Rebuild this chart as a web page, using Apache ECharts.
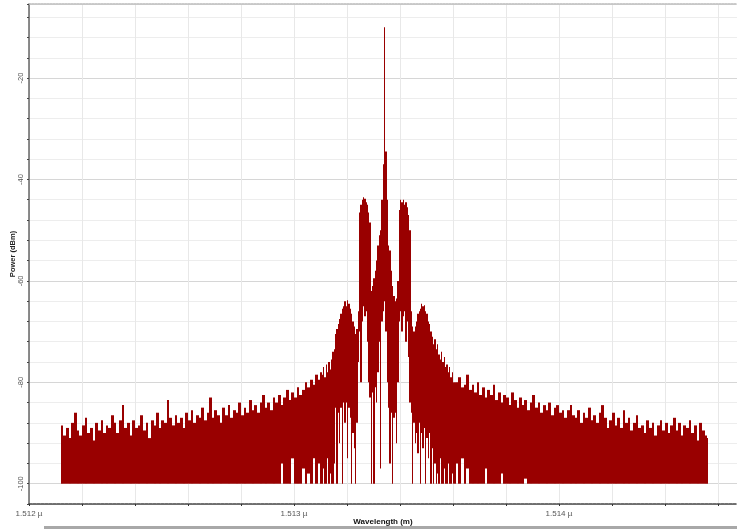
<!DOCTYPE html>
<html>
<head>
<meta charset="utf-8">
<script src="https://cdn.jsdelivr.net/npm/echarts@6/dist/echarts.min.js"></script>
<style>
html,body{margin:0;padding:0;background:#fff;}
#chart{width:737px;height:529px;}
</style>
</head>
<body>
<div id="chart"></div>
<script>
// 采样波长 (nm)：两侧噪底 0.01nm 一个点，中间信号区 0.005nm 一个点
const wavelengthNm = [
  1512.12,1512.13,1512.14,1512.15,1512.16,1512.17,1512.18,1512.19,1512.20,1512.21,
  1512.22,1512.23,1512.24,1512.25,1512.26,1512.27,1512.28,1512.29,1512.30,1512.31,
  1512.32,1512.33,1512.34,1512.35,1512.36,1512.37,1512.38,1512.39,1512.40,1512.41,
  1512.42,1512.43,1512.44,1512.45,1512.46,1512.47,1512.48,1512.49,1512.50,1512.51,
  1512.52,1512.53,1512.54,1512.55,1512.56,1512.57,1512.58,1512.59,1512.60,1512.61,
  1512.62,1512.63,1512.64,1512.65,1512.66,1512.67,1512.68,1512.69,1512.70,1512.71,
  1512.72,1512.73,1512.74,1512.75,1512.76,1512.77,1512.78,1512.79,1512.80,1512.81,
  1512.82,1512.83,1512.84,1512.85,1512.86,1512.87,1512.88,1512.89,1512.90,1512.91,
  1512.92,1512.93,1512.94,1512.95,1512.96,1512.97,1512.98,1512.99,1513.00,1513.01,
  1513.02,1513.03,1513.04,1513.05,1513.06,1513.07,1513.08,1513.09,1513.10,
  1513.105,1513.110,1513.115,1513.120,1513.125,1513.130,1513.135,1513.140,1513.145,1513.150,
  1513.155,1513.160,1513.165,1513.170,1513.175,1513.180,1513.185,1513.190,1513.195,1513.200,
  1513.205,1513.210,1513.215,1513.220,1513.225,1513.230,1513.235,1513.240,1513.245,1513.250,
  1513.255,1513.260,1513.265,1513.270,1513.275,1513.280,1513.285,1513.290,1513.295,1513.300,
  1513.305,1513.310,1513.315,1513.320,1513.325,1513.330,1513.335,1513.340,1513.345,1513.350,
  1513.355,1513.360,1513.365,1513.370,1513.375,1513.380,1513.385,1513.390,1513.395,1513.400,
  1513.405,1513.410,1513.415,1513.420,1513.425,1513.430,1513.435,1513.440,1513.445,1513.450,
  1513.455,1513.460,1513.465,1513.470,1513.475,1513.480,1513.485,1513.490,1513.495,1513.500,
  1513.505,1513.510,1513.515,1513.520,1513.525,1513.530,1513.535,1513.540,1513.545,1513.550,
  1513.555,1513.560,1513.565,1513.570,1513.575,1513.580,1513.585,1513.590,1513.595,1513.600,
  1513.61,1513.62,1513.63,1513.64,1513.65,1513.66,1513.67,1513.68,1513.69,1513.70,
  1513.71,1513.72,1513.73,1513.74,1513.75,1513.76,1513.77,1513.78,1513.79,1513.80,
  1513.81,1513.82,1513.83,1513.84,1513.85,1513.86,1513.87,1513.88,1513.89,1513.90,
  1513.91,1513.92,1513.93,1513.94,1513.95,1513.96,1513.97,1513.98,1513.99,1514.00,
  1514.01,1514.02,1514.03,1514.04,1514.05,1514.06,1514.07,1514.08,1514.09,1514.10,
  1514.11,1514.12,1514.13,1514.14,1514.15,1514.16,1514.17,1514.18,1514.19,1514.20,
  1514.21,1514.22,1514.23,1514.24,1514.25,1514.26,1514.27,1514.28,1514.29,1514.30,
  1514.31,1514.32,1514.33,1514.34,1514.35,1514.36,1514.37,1514.38,1514.39,1514.40,
  1514.41,1514.42,1514.43,1514.44,1514.45,1514.46,1514.47,1514.48,1514.49,1514.50,
  1514.51,1514.52,1514.53,1514.54,1514.55,1514.56
];

// 每个采样点的最高功率 (dBm)
const peakDbm = [
  -88.5,-90.5,-89.0,-91.0,-88.0,-86.0,-89.5,-90.5,-88.5,-87.0,
  -90.0,-89.0,-91.5,-88.0,-89.5,-87.5,-90.0,-88.5,-89.0,-86.5,
  -88.0,-90.0,-87.5,-84.5,-89.0,-88.0,-90.5,-87.5,-89.0,-88.5,
  -86.5,-89.5,-88.0,-91.0,-87.5,-88.5,-86.0,-89.0,-87.5,-88.0,
  -83.5,-87.0,-88.5,-86.5,-88.0,-87.0,-89.0,-86.0,-87.5,-85.5,
  -88.0,-86.5,-87.0,-85.0,-87.5,-86.0,-83.0,-87.0,-85.5,-86.5,
  -88.0,-85.0,-86.5,-84.5,-87.0,-85.5,-86.0,-84.0,-86.5,-85.0,
  -86.0,-83.5,-85.5,-84.5,-86.0,-84.0,-82.5,-85.0,-84.0,-85.5,
  -83.0,-84.0,-82.5,-84.5,-83.0,-81.5,-83.5,-82.0,-83.0,-81.0,
  -82.5,-81.5,-80.0,-81.0,-79.5,-80.5,-78.5,-79.5,-78.0,
  -78.5,-77.0,-79.0,-76.5,-78.0,-76.0,-77.5,-75.5,-74.0,-73.5,
  -70.5,-69.5,-68.5,-67.5,-66.5,-65.5,-65.0,-64.0,-65.0,-63.8,
  -64.5,-65.5,-66.5,-68.0,-69.0,-70.5,-69.5,-66.0,-46.5,-45.0,
  -44.0,-43.5,-43.8,-44.5,-45.0,-46.5,-48.5,-62.0,-61.0,-59.5,
  -58.0,-56.0,-53.0,-51.0,-50.0,-44.0,-37.0,-10.0,-34.5,-44.0,
  -53.0,-54.0,-58.0,-61.0,-63.0,-64.0,-63.5,-60.0,-46.0,-44.0,
  -44.5,-44.0,-45.0,-44.5,-45.5,-47.0,-50.0,-66.0,-69.0,-70.0,
  -69.0,-68.0,-66.5,-66.0,-65.5,-64.5,-65.0,-64.8,-66.0,-66.5,
  -68.0,-68.5,-70.0,-71.0,-72.5,-71.5,-73.5,-72.5,-74.5,-75.5,
  -74.0,-76.0,-75.0,-77.0,-76.5,-78.0,-77.0,-79.0,-78.0,-80.0,
  -80.0,-79.0,-81.0,-80.5,-78.5,-81.5,-80.5,-82.0,-80.0,-82.5,
  -81.0,-83.0,-81.5,-82.5,-80.5,-83.5,-82.0,-84.0,-82.5,-83.0,
  -84.5,-82.0,-83.5,-85.0,-83.0,-84.5,-83.5,-85.5,-84.0,-82.5,
  -85.0,-84.0,-86.0,-84.5,-85.5,-84.0,-86.5,-85.0,-84.5,-86.0,
  -85.5,-87.0,-85.5,-84.5,-86.5,-87.0,-85.5,-88.0,-86.0,-87.0,
  -85.0,-87.5,-86.5,-88.0,-86.0,-84.5,-87.0,-89.0,-87.5,-86.0,
  -88.5,-87.0,-89.0,-85.5,-88.0,-87.0,-89.5,-88.0,-86.5,-89.0,
  -88.5,-90.0,-87.5,-89.0,-88.0,-90.5,-88.5,-87.5,-89.5,-88.0,
  -90.0,-88.5,-87.0,-89.5,-88.0,-90.5,-88.5,-89.0,-87.5,-90.0,
  -88.5,-91.5,-88.0,-89.5,-90.5,-91.0
];

// 每个采样点的最低功率 (dBm)，-100 为显示下限
const troughDbm = [
  -100,-100,-100,-100,-100,-100,-100,-100,-100,-100,
  -100,-100,-100,-100,-100,-100,-100,-100,-100,-100,
  -100,-100,-100,-100,-100,-100,-100,-100,-100,-100,
  -100,-100,-100,-100,-100,-100,-100,-100,-100,-100,
  -100,-100,-100,-100,-100,-100,-100,-100,-100,-100,
  -100,-100,-100,-100,-100,-100,-100,-100,-100,-100,
  -100,-100,-100,-100,-100,-100,-100,-100,-100,-100,
  -100,-100,-100,-100,-100,-100,-100,-100,-100,-100,
  -100,-100,-100,-96,-100,-100,-100,-95,-100,-100,
  -100,-97,-100,-98,-100,-95,-100,-96,-100,
  -100,-97,-100,-100,-95,-100,-98,-100,-100,-96,
  -85,-100,-86,-92,-85,-100,-84,-88,-84,-95,
  -85,-87,-100,-90,-93,-100,-88,-76,-70,-80,
  -68,-65,-67,-66,-72,-80,-83,-100,-82,-100,
  -81,-84,-78,-72,-97,-68,-66,-64,-70,-80,
  -85,-96,-86,-100,-87,-86,-92,-80,-68,-66,
  -70,-67,-66,-72,-68,-75,-84,-86,-100,-88,
  -92,-90,-94,-88,-100,-90,-93,-89,-100,-91,
  -95,-90,-100,-93,-100,-96,-100,-98,-100,-95,
  -100,-100,-97,-100,-100,-96,-100,-100,-98,-100,
  -96,-100,-95,-100,-97,-100,-100,-100,-100,-100,
  -100,-97,-100,-100,-100,-100,-100,-98,-100,-100,
  -100,-100,-100,-100,-100,-100,-99,-100,-100,-100,
  -100,-100,-100,-100,-100,-100,-100,-100,-100,-100,
  -100,-100,-100,-100,-100,-100,-100,-100,-100,-100,
  -100,-100,-100,-100,-100,-100,-100,-100,-100,-100,
  -100,-100,-100,-100,-100,-100,-100,-100,-100,-100,
  -100,-100,-100,-100,-100,-100,-100,-100,-100,-100,
  -100,-100,-100,-100,-100,-100,-100,-100,-100,-100,
  -100,-100,-100,-100,-100,-100
];

const spectrum = wavelengthNm.map((w, i) => [w, peakDbm[i], troughDbm[i]]);

const myChart = echarts.init(document.getElementById('chart'));
const font = 'Liberation Sans, Arial, sans-serif';

let option = {
    animation: false,
    backgroundColor: '#fff',
    grid: { left: 29, right: 0, top: 4, bottom: 25, containLabel: false, outerBoundsMode: 'none' },
    graphic: [{
        type: 'rect', left: 44, top: 526,
        shape: { width: 693, height: 3 },
        style: { fill: '#a8a8a8' }
    }],
    xAxis: [{
        type: 'value',
        min: 1512, max: 1514.672, interval: 0.2,
        name: 'Wavelength (m)',
        nameLocation: 'middle', nameGap: 14, nameMoveOverlap: false,
        nameTextStyle: { fontFamily: font, fontSize: 8, fontWeight: 'bold', color: '#111' },
        axisLine: { lineStyle: { color: '#444', width: 1.5, type: [3, 1] } },
        axisTick: { show: true, length: 2, lineStyle: { color: '#333' } },
        axisLabel: {
            fontFamily: font, fontSize: 8, color: '#555', margin: 6,
            formatter: (v) => Math.abs(v - Math.round(v)) < 1e-6 ? (v / 1000).toFixed(3) + ' µ' : ''
        },
        splitLine: { show: true, lineStyle: { color: '#e8e8e8', width: 1 } }
    }, {
        type: 'value', position: 'top',
        min: 1512, max: 1514.672,
        axisLine: { show: true, lineStyle: { color: '#bbb', width: 1.5, type: [2, 1] } },
        axisTick: { show: false }, axisLabel: { show: false }, splitLine: { show: false }
    }],
    yAxis: {
        type: 'value',
        min: -104, max: -5.4, interval: 4,
        name: 'Power (dBm)',
        nameLocation: 'middle', nameGap: 12, nameRotate: 90, nameMoveOverlap: false,
        nameTextStyle: { fontFamily: font, fontSize: 7.5, fontWeight: 'bold', color: '#222' },
        axisLine: { lineStyle: { color: '#666', width: 1.5 } },
        axisTick: { show: true, length: 2, lineStyle: { color: '#444' } },
        axisLabel: {
            fontFamily: font, fontSize: 7.5, color: '#555', rotate: 90, margin: 4,
            formatter: (v) => v % 20 === 0 ? String(v) : ''
        },
        splitLine: { show: true, lineStyle: { color: ['#ededed', '#d6d6d6', '#ededed', '#ededed', '#ededed'], width: 1 } }
    },
    series: [{
        type: 'custom',
        clip: true,
        data: spectrum,
        renderItem: function (params, api) {
            const i = params.dataIndex;
            const w = api.value(0);
            const next = i + 1 < wavelengthNm.length ? wavelengthNm[i + 1] : w;
            const top = api.coord([w, api.value(1)]);
            const bottom = api.coord([w, api.value(2)]);
            const right = api.coord([next, api.value(1)]);
            // 取整到像素，避免相邻柱之间出现白缝
            const x0 = Math.round(top[0]);
            const x1 = Math.round(right[0]);
            return {
                type: 'rect',
                shape: { x: x0, y: top[1], width: Math.max(x1 - x0, 1), height: bottom[1] - top[1] },
                style: { fill: '#990000' }
            };
        }
    }]
};

myChart.setOption(option, true);
</script>
</body>
</html>
